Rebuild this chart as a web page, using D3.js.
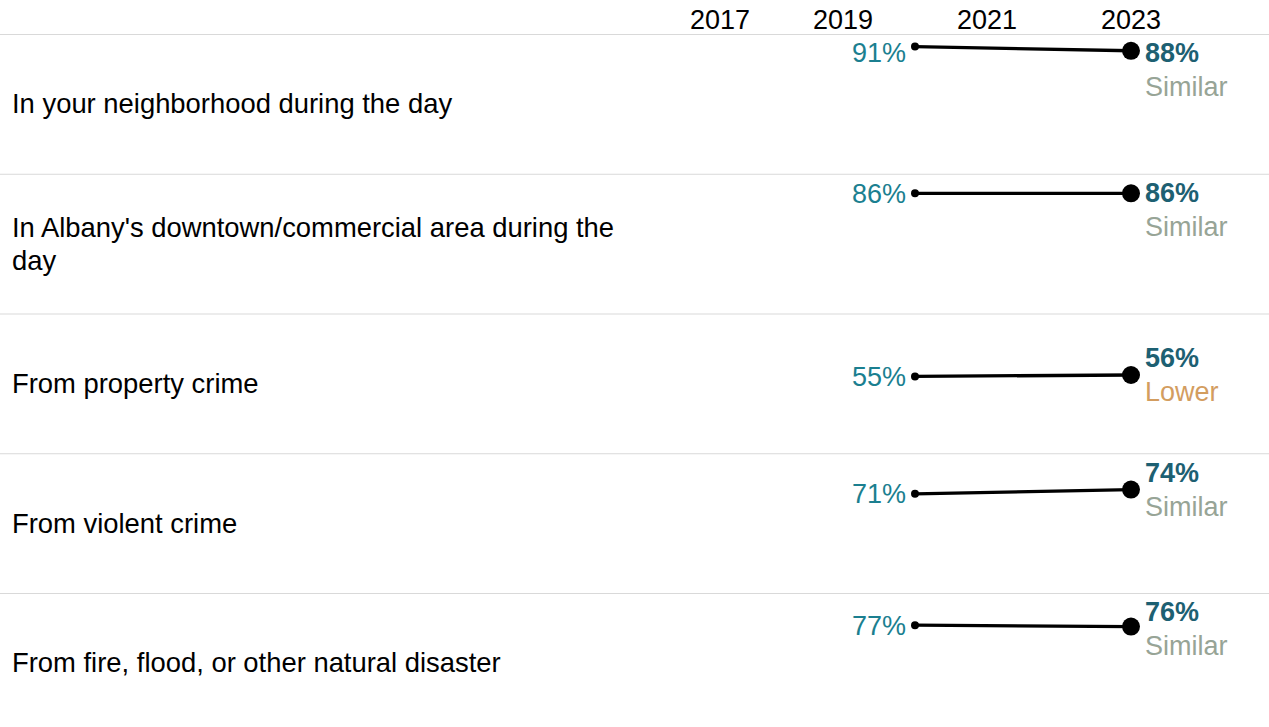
<!doctype html>
<html>
<head>
    <meta charset="utf8">
    <style>
        body { margin: 0; background: #fff; }
        text { font-family: "Liberation Sans", Arial, sans-serif; }
        .sep { stroke: #d9d9d9; stroke-width: 1; }
        .year { font-size: 27px; fill: #000; }
        .rowlabel { font-size: 27.4px; fill: #000; }
        .startval { font-size: 27px; fill: #1b7f90; }
        .endval { font-size: 27px; font-weight: bold; fill: #1d6072; }
        .cmp { font-size: 27px; }
</style>
    <script src="https://d3js.org/d3.v7.min.js"></script>
</head>
<body>
<svg width="1269" height="727"></svg>
<script>

    var categories = [
        "In your neighborhood during the day",
        "In Albany's downtown/commercial area during the day",
        "From property crime",
        "From violent crime",
        "From fire, flood, or other natural disaster"
    ];
    var startValues = [91, 86, 55, 71, 77];
    var endValues = [88, 86, 56, 74, 76];
    var comparisons = ["Similar", "Similar", "Lower", "Similar", "Similar"];
    var yearTicks = [2017, 2019, 2021, 2023];
    var startYear = 2020,
        endYear = 2023;

    var cmpColor = { "Similar": "#97a496", "Lower": "#d39d5f", "Higher": "#4c8c5a" };

    var svg = d3.select("svg"),
        width = +svg.attr("width"),
        topY = 34,
        rowH = 139.75,
        paneLeft = 690;

    var x = d3.scaleLinear().domain([2019, 2023]).range([843, 1131]);
    var y = d3.scaleLinear().domain([0, 100]).range([rowH, 0]);

    // year header
    svg.selectAll(".year")
       .data(yearTicks)
       .enter().append("text")
       .attr("class", "year")
       .attr("x", function(d) { return Math.max(x(d), paneLeft + 30); })
       .attr("y", 29)
       .attr("text-anchor", "middle")
       .text(function(d) { return d; });

    var rows = categories.map(function(c, i) {
        return { label: c, a: startValues[i], b: endValues[i], cmp: comparisons[i] };
    });

    var g = svg.selectAll(".row")
       .data(rows)
       .enter().append("g")
       .attr("class", "row")
       .attr("transform", function(d, i) { return "translate(0," + (topY + i * rowH) + ")"; });

    g.append("line")
     .attr("class", "sep")
     .attr("x1", 0).attr("x2", width)
     .attr("y1", 0.5).attr("y2", 0.5);

    // row labels, wrapped
    g.each(function(d) {
        var t = d3.select(this).append("text")
                  .attr("class", "rowlabel")
                  .attr("x", 12);
        var words = d.label.split(" "), lines = [], cur = "";
        var probe = d3.select(this).append("text").attr("class", "rowlabel");
        words.forEach(function(w) {
            var test = cur ? cur + " " + w : w;
            probe.text(test);
            if (probe.node().getComputedTextLength() > 640 && cur) {
                lines.push(cur);
                cur = w;
            } else {
                cur = test;
            }
        });
        lines.push(cur);
        probe.remove();
        var lh = 33, y0 = rowH / 2 - (lines.length - 1) * lh / 2;
        lines.forEach(function(l, k) {
            t.append("tspan")
             .attr("x", 12)
             .attr("y", y0 + k * lh)
             .attr("dy", "0.35em")
             .text(l);
        });
    });

    var line = d3.line()
        .x(function(p) { return x(p.year); })
        .y(function(p) { return y(p.v); });

    g.append("path")
     .attr("d", function(d) { return line([{ year: startYear, v: d.a }, { year: endYear, v: d.b }]); })
     .attr("fill", "none")
     .attr("stroke", "#000")
     .attr("stroke-width", 3.3);

    g.append("circle")
     .attr("cx", x(startYear))
     .attr("cy", function(d) { return y(d.a); })
     .attr("r", 4)
     .attr("fill", "#000");

    g.append("circle")
     .attr("cx", x(endYear))
     .attr("cy", function(d) { return y(d.b); })
     .attr("r", 9)
     .attr("fill", "#000");

    g.append("text")
     .attr("class", "startval")
     .attr("x", x(startYear) - 9)
     .attr("y", function(d) { return Math.max(19, y(d.a)); })
     .attr("dy", "0.35em")
     .attr("text-anchor", "end")
     .text(function(d) { return d.a + "%"; });

    function endY(d) { return Math.max(19, y(d.b) - 17); }

    g.append("text")
     .attr("class", "endval")
     .attr("x", x(endYear) + 14)
     .attr("y", endY)
     .attr("dy", "0.35em")
     .text(function(d) { return d.b + "%"; });

    g.append("text")
     .attr("class", "cmp")
     .attr("x", x(endYear) + 14)
     .attr("y", function(d) { return endY(d) + 34; })
     .attr("dy", "0.35em")
     .attr("fill", function(d) { return cmpColor[d.cmp]; })
     .text(function(d) { return d.cmp; });

</script>
</body>
</html>
